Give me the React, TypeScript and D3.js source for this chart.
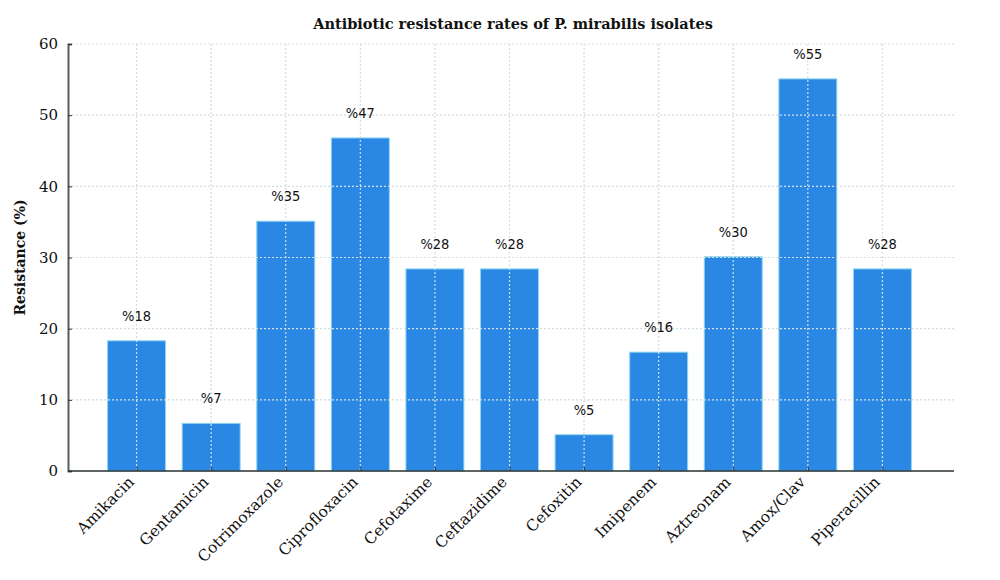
import { useEffect, useRef } from "react"
import * as d3 from "d3"

const drugs = [
  "Amikacin", "Gentamicin", "Cotrimoxazole", "Ciprofloxacin", "Cefotaxime",
  "Ceftazidime", "Cefoxitin", "Imipenem", "Aztreonam", "Amox/Clav", "Piperacillin",
]
const resistance = [18.3, 6.7, 35.1, 46.8, 28.4, 28.4, 5.1, 16.7, 30.1, 55.1, 28.4]
const barLabels = ["%18", "%7", "%35", "%47", "%28", "%28", "%5", "%16", "%30", "%55", "%28"]
const yTicks = [0, 10, 20, 30, 40, 50, 60]

const serif = "'DejaVu Serif', serif"
const sans = "'DejaVu Sans Condensed', 'DejaVu Sans', sans-serif"

export default function App() {
  const svgRef = useRef<SVGSVGElement>(null)

  useEffect(() => {
    if (!svgRef.current) return
    const svg = d3.select(svgRef.current)
    svg.selectAll("*").remove()

    const left = 68
    const right = 954
    const top = 44
    const bottom = 471

    // MATLAB-like numeric x axis: categories sit at 1..11
    const x = d3.scaleLinear().domain([0, 12]).range([62, 957])
    const y = d3.scaleLinear().domain([0, 60]).range([bottom, top])
    const barW = 58

    // Bars
    svg
      .append("g")
      .selectAll("rect")
      .data(resistance)
      .enter()
      .append("rect")
      .attr("x", (_, i) => x(i + 1) - barW / 2)
      .attr("y", d => y(d))
      .attr("width", barW)
      .attr("height", d => bottom - y(d))
      .attr("fill", "#2a88e4")
      .attr("stroke", "#8fd8f0")
      .attr("stroke-width", 1)

    // Dotted grid on top of the bars
    const grid = svg.append("g").attr("stroke", "#d4dde0").attr("stroke-width", 1.2).attr("stroke-dasharray", "2,2")
    yTicks.slice(1).forEach(t => {
      grid.append("line").attr("x1", left).attr("x2", right).attr("y1", y(t)).attr("y2", y(t))
    })
    drugs.forEach((_, i) => {
      grid.append("line").attr("x1", x(i + 1)).attr("x2", x(i + 1)).attr("y1", top).attr("y2", bottom)
    })

    // Y axis
    const yAxis = svg
      .append("g")
      .attr("transform", `translate(${left},0)`)
      .call(d3.axisLeft(y).tickValues(yTicks).tickSize(-4).tickPadding(10).tickFormat(d3.format("d")))
    yAxis.select(".domain").attr("stroke", "#56605f").attr("stroke-width", 2)
    yAxis.selectAll(".tick line").attr("stroke", "#333")
    yAxis.selectAll("text").attr("font-family", serif).attr("font-size", 15).attr("fill", "#111")

    // X axis
    const xAxis = svg
      .append("g")
      .attr("transform", `translate(0,${bottom})`)
      .call(
        d3.axisBottom(x)
          .tickValues(drugs.map((_, i) => i + 1))
          .tickSize(-4)
          .tickFormat((_, i) => drugs[i])
      )
    xAxis.select(".domain").attr("d", `M${left},0H${right}`).attr("stroke", "#2a3232").attr("stroke-width", 1.6)
    xAxis.selectAll(".tick line").attr("stroke", "#333")
    xAxis
      .selectAll("text")
      .attr("font-family", serif)
      .attr("font-size", 15.5)
      .attr("fill", "#111")
      .style("text-anchor", "end")
      .attr("x", -10)
      .attr("y", -4)
      .attr("dy", "0.71em")
      .attr("transform", "rotate(-45)")

    // Value labels
    svg
      .append("g")
      .selectAll("text")
      .data(resistance)
      .enter()
      .append("text")
      .attr("x", (_, i) => x(i + 1))
      .attr("y", d => y(d) - 20)
      .attr("text-anchor", "middle")
      .attr("font-family", sans)
      .attr("font-size", 14.5)
      .attr("fill", "#111")
      .text((_, i) => barLabels[i])

    // Title
    svg
      .append("text")
      .attr("x", 513)
      .attr("y", 29)
      .attr("text-anchor", "middle")
      .attr("font-family", serif)
      .attr("font-weight", "bold")
      .attr("font-size", 14.5)
      .attr("fill", "#111")
      .text("Antibiotic resistance rates of P. mirabilis isolates")

    // Y label
    svg
      .append("text")
      .attr("transform", `translate(25,${(top + bottom) / 2}) rotate(-90)`)
      .attr("text-anchor", "middle")
      .attr("font-family", serif)
      .attr("font-weight", "bold")
      .attr("font-size", 14)
      .attr("fill", "#111")
      .text("Resistance (%)")
  }, [])

  return (
    <div style={{ width: 1000, height: 580, margin: -8, background: "#fff" }}>
      <svg ref={svgRef} width={1000} height={580} />
    </div>
  )
}
